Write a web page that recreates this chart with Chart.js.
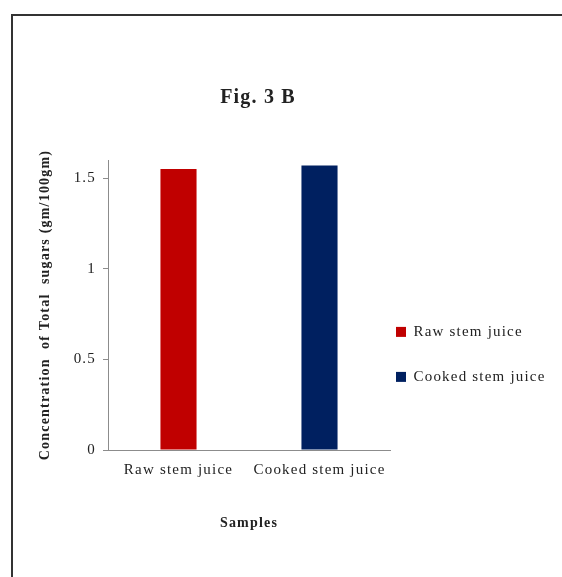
<!DOCTYPE html>
<html>
<head>
<meta charset="utf-8">
<script src="https://cdn.jsdelivr.net/npm/chart.js"></script>
<style>
  html, body { margin: 0; padding: 0; background: #fff; }
  #wrap { position: relative; width: 562px; height: 577px; overflow: hidden; }
  #frame { position: absolute; left: 11px; top: 14px; right: -10px; bottom: -10px;
           border-top: 2px solid #333; border-left: 2px solid #333; }
  #chart { position: absolute; left: 0; top: 0; }
</style>
</head>
<body>
<div id="wrap">
  <div id="frame"></div>
  <canvas id="chart" width="562" height="577"></canvas>
</div>
<script>
// data
const categories = ['Raw stem juice', 'Cooked stem juice'];
const seriesNames = ['Raw stem juice', 'Cooked stem juice'];
const rawValues = [1.55, null];
const cookedValues = [null, 1.57];
const yTicks = [0, 0.5, 1, 1.5];

const serif = "'Liberation Serif', 'Times New Roman', serif";
const ink = '#222';
const spacing = '1.2px';

// the original text is set loosely, and the legend / title sit off chart.js defaults
const figTweaks = {
    id: 'figTweaks',
    beforeLayout(chart) {
        chart.ctx.letterSpacing = spacing;
    },
    afterLayout(chart) {
        const lg = chart.legend;
        lg.left -= 24;
        lg.right = chart.width;
        lg.width = lg.right - lg.left;
        const tb = chart.titleBlock;
        tb.left -= 2; tb.right -= 2;
    },
    beforeDraw(chart) {
        chart.ctx.letterSpacing = spacing;
    }
};

const ctx = document.getElementById('chart').getContext('2d');
new Chart(ctx, {
    type: 'bar',
    data: {
        labels: categories,
        datasets: [{
            label: seriesNames[0],
            data: rawValues,
            backgroundColor: '#C00000'
        }, {
            label: seriesNames[1],
            data: cookedValues,
            backgroundColor: '#002060'
        }]
    },
    options: {
        responsive: false,
        animation: false,
        grouped: false,
        barPercentage: 0.256,
        categoryPercentage: 1,
        layout: { padding: { left: 0, top: 0, right: 42, bottom: 0 } },
        plugins: {
            title: {
                display: true,
                text: 'Fig. 3 B',
                color: ink,
                font: { family: serif, size: 20, weight: 'bold' },
                padding: { top: 86, bottom: 50 }
            },
            legend: {
                position: 'right',
                title: {
                    display: true,
                    text: ' ',
                    font: { family: serif, size: 14 },
                    padding: { top: 115, bottom: 0 }
                },
                labels: {
                    color: ink,
                    font: { family: serif, size: 15 },
                    boxWidth: 10,
                    boxHeight: 10,
                    padding: 30
                }
            },
            tooltip: { enabled: false }
        },
        scales: {
            x: {
                offset: true,
                grid: { display: false, drawTicks: false },
                border: { color: '#8c8c8c' },
                ticks: { color: ink, font: { family: serif, size: 15 }, padding: 11 },
                title: {
                    display: true,
                    text: 'Samples',
                    color: ink,
                    font: { family: serif, size: 14, weight: 'bold' },
                    padding: { top: 4, bottom: 45 }
                },
                afterFit(scale) { scale.height = 127; }
            },
            y: {
                min: 0,
                max: 1.6,
                grid: { drawOnChartArea: false, drawTicks: true, tickLength: 5, tickColor: '#8c8c8c' },
                border: { color: '#8c8c8c' },
                ticks: {
                    color: ink,
                    font: { family: serif, size: 15 },
                    padding: 7,
                    stepSize: 0.5,
                    callback: v => String(v)
                },
                afterBuildTicks(scale) {
                    scale.ticks = yTicks.map(v => ({ value: v }));
                },
                title: {
                    display: true,
                    text: 'Concentration  of Total  sugars (gm/100gm)',
                    color: ink,
                    font: { family: serif, size: 14, weight: 'bold' },
                    padding: { top: 37, bottom: 0 }
                },
                afterFit(scale) { scale.width = 108; }
            }
        }
    },
    plugins: [figTweaks]
});
</script>
</body>
</html>
